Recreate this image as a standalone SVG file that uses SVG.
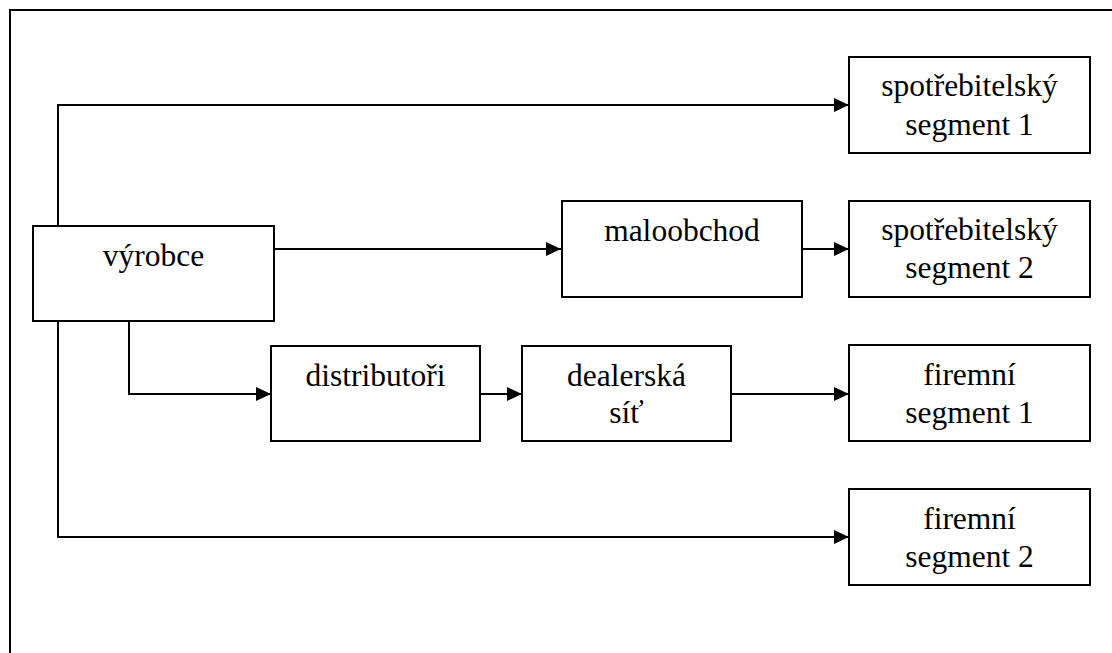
<svg xmlns="http://www.w3.org/2000/svg" width="1112" height="653" viewBox="0 0 1112 653">
  <style>
    .box { fill: #ffffff; stroke: #000000; stroke-width: 2; }
    .link { fill: none; stroke: #000000; stroke-width: 2; }
    .frame { fill: none; stroke: #000000; stroke-width: 2; }
    text { font-family: "Liberation Serif", "Times New Roman", serif; font-size: 31.5px; fill: #000000; text-anchor: middle; }
  </style>
  <defs>
    <marker id="arrow" viewBox="0 0 15 14" refX="15" refY="7" markerWidth="15" markerHeight="14" markerUnits="userSpaceOnUse" orient="auto">
      <path d="M0,0 L15,7 L0,14 Z" fill="#000000"/>
    </marker>
  </defs>

  <rect width="1112" height="653" fill="#ffffff"/>
  <!-- page frame (open to the right and bottom) -->
  <path class="frame" d="M10,653 V10 H1112"/>

  <g id="connectors">
    <path class="link" d="M58,226 V105 H849" marker-end="url(#arrow)"/>
    <path class="link" d="M274,249 H561" marker-end="url(#arrow)"/>
    <path class="link" d="M802,249 H849" marker-end="url(#arrow)"/>
    <path class="link" d="M129,321 V394 H271" marker-end="url(#arrow)"/>
    <path class="link" d="M480,394 H522" marker-end="url(#arrow)"/>
    <path class="link" d="M731,394 H849" marker-end="url(#arrow)"/>
    <path class="link" d="M58,321 V537 H849" marker-end="url(#arrow)"/>
  </g>

  <g id="vyrobce">
    <rect class="box" x="33" y="226" width="241" height="95"/>
    <text x="153.5" y="266">výrobce</text>
  </g>
  <g id="spotrebitelsky-segment-1">
    <rect class="box" x="849" y="57" width="241" height="96"/>
    <text x="969.5" y="96">spotřebitelský</text>
    <text x="969.5" y="135">segment 1</text>
  </g>
  <g id="maloobchod">
    <rect class="box" x="562" y="201" width="240" height="96"/>
    <text x="682" y="241">maloobchod</text>
  </g>
  <g id="spotrebitelsky-segment-2">
    <rect class="box" x="849" y="201" width="241" height="96"/>
    <text x="969.5" y="240">spotřebitelský</text>
    <text x="969.5" y="278">segment 2</text>
  </g>
  <g id="distributori">
    <rect class="box" x="271" y="346" width="209" height="95"/>
    <text x="375.5" y="386">distributoři</text>
  </g>
  <g id="dealerska-sit">
    <rect class="box" x="522" y="346" width="209" height="95"/>
    <text x="626.5" y="386">dealerská</text>
    <text x="626.5" y="423">síť</text>
  </g>
  <g id="firemni-segment-1">
    <rect class="box" x="849" y="345" width="241" height="96"/>
    <text x="969.5" y="385">firemní</text>
    <text x="969.5" y="423">segment 1</text>
  </g>
  <g id="firemni-segment-2">
    <rect class="box" x="849" y="489" width="241" height="96"/>
    <text x="969.5" y="529">firemní</text>
    <text x="969.5" y="567">segment 2</text>
  </g>
</svg>
